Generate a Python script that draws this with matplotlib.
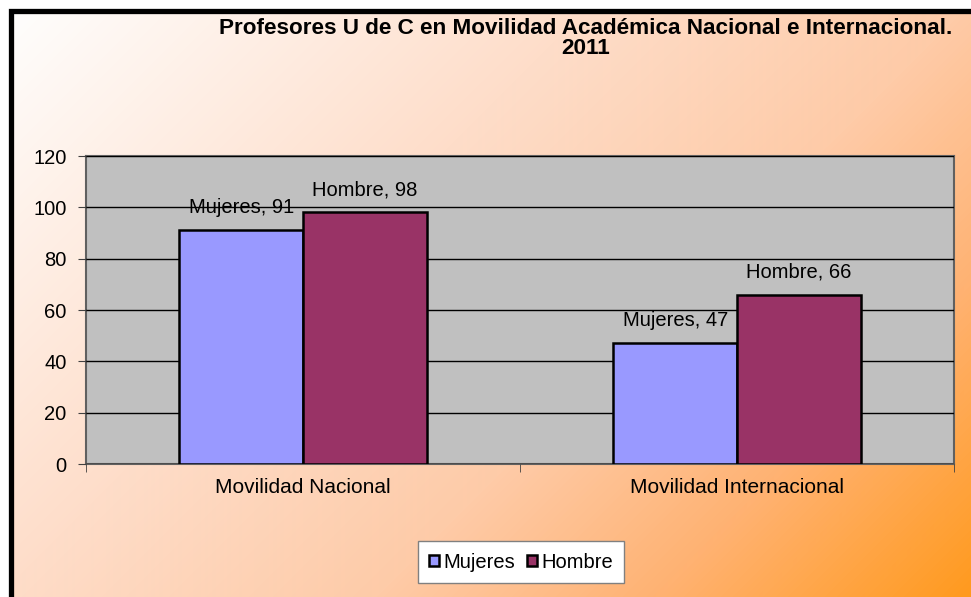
import numpy as np
import matplotlib
matplotlib.use('Agg')
from matplotlib import pyplot as plt
from matplotlib.colors import LinearSegmentedColormap
from matplotlib.patches import Rectangle

plt.rcParams['font.family'] = ['Liberation Sans', 'DejaVu Sans']

# data
categories = ['Movilidad Nacional', 'Movilidad Internacional']
series_names = ['Mujeres', 'Hombre']
mujeres = [91, 47]
hombre = [98, 66]
colors = ['#9999FF', '#993366']

W, H = 971, 597
fig = plt.figure(figsize=(W / 100, H / 100), dpi=100)

# gradient background, white top-left to orange bottom-right
bg = fig.add_axes([0, 0, 1, 1], zorder=-2)
xx, yy = np.meshgrid(np.arange(W), np.arange(H))
t = (xx + yy) / (W + H)
cmap = LinearSegmentedColormap.from_list('bg', [(0, '#FFFFFF'), (0.38, '#FEDDC9'),
                                                (0.62, '#FECBA8'), (0.8, '#FFB272'),
                                                (1, '#FF9A1E')])
bg.imshow(t, cmap=cmap, aspect='auto', extent=[0, 1, 0, 1], origin='upper')
bg.set_xlim(0, 1)
bg.set_ylim(0, 1)
bg.axis('off')
# white margin outside the black frame
bg.add_patch(Rectangle((0, 0), 9 / W, 1, color='white', lw=0))
bg.add_patch(Rectangle((0, 1 - 9 / H), 1, 9 / H, color='white', lw=0))
# black frame (right / bottom edges fall outside the image)
bg.add_patch(Rectangle((11 / W, -0.1), 1.2, 1 - 10.5 / H + 0.1, fill=False,
                       edgecolor='black', linewidth=3.8))

ax = fig.add_axes([86 / W, 1 - 464 / H, (954 - 86) / W, (464 - 156) / H])
ax.set_facecolor('#C0C0C0')

x = np.arange(len(categories))
bw = 0.285
b1 = ax.bar(x - bw / 2, mujeres, bw, color=colors[0], edgecolor='black', linewidth=1.8,
            label=series_names[0], zorder=3)
b2 = ax.bar(x + bw / 2, hombre, bw, color=colors[1], edgecolor='black', linewidth=1.8,
            label=series_names[1], zorder=3)

for bars, name in [(b1, series_names[0]), (b2, series_names[1])]:
    for rect in bars:
        v = rect.get_height()
        ax.annotate(f'{name}, {v:g}', (rect.get_x() + rect.get_width() / 2, v),
                    xytext=(0, 12.5), textcoords='offset points', ha='center',
                    va='baseline', fontsize=14.5, zorder=1)

ax.set_xlim(-0.5, 1.5)
ax.set_ylim(0, 120)
ax.set_yticks(range(0, 121, 20))
ax.tick_params(axis='y', labelsize=14.5, length=6, color='#404040', pad=8)
ax.set_xticks(x)
ax.set_xticklabels(categories, fontsize=15)
ax.tick_params(axis='x', length=0, pad=10)
ax.set_xticks([-0.5, 0.5, 1.5], minor=True)
ax.tick_params(axis='x', which='minor', length=6, color='#404040')
ax.grid(axis='y', color='black', linewidth=1, zorder=2)
ax.set_axisbelow(False)
for s in ax.spines.values():
    s.set_color('#606060')
    s.set_linewidth(1.5)

fig.text(586 / W, 1 - 28 / H, 'Profesores U de C en Movilidad Académica Nacional e Internacional.',
         ha='center', va='center', fontsize=16.2, fontweight='bold')
fig.text(586 / W, 1 - 48 / H, '2011',
         ha='center', va='center', fontsize=16.2, fontweight='bold')

leg = fig.legend(handles=[b1, b2], loc='center', bbox_to_anchor=(521 / W, 1 - 562 / H),
                 ncol=2, fontsize=14.5, frameon=True, fancybox=False, handlelength=0.5,
                 handleheight=0.5, handletextpad=0.2, columnspacing=0.6,
                 borderpad=0.55, borderaxespad=0)
leg.get_frame().set_edgecolor('#808080')
leg.get_frame().set_facecolor('white')
leg.get_frame().set_alpha(1)

fig.savefig('out.png', dpi=100)
